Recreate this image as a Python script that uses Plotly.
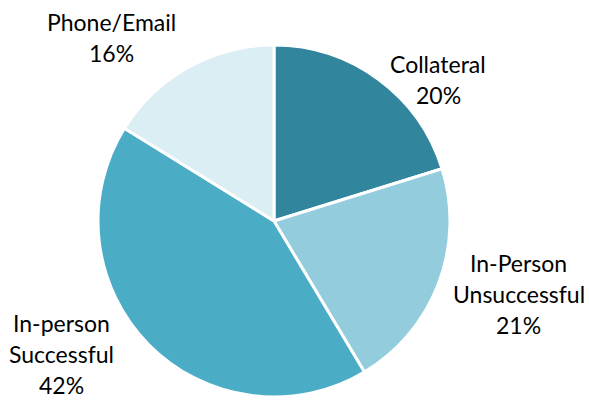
import plotly.graph_objects as go

# Share of contacts by type, clockwise from 12 o'clock
categories = ["Collateral", "In-Person\nUnsuccessful", "In-person\nSuccessful", "Phone/Email"]
shares = [20, 21, 42, 16]
colors = ["#31859C", "#93CDDD", "#4BACC6", "#DAEEF3"]

# label anchor points (paper coords, centre of text block)
label_x = [0.744, 0.881, 0.105, 0.189]
label_y = [0.801, 0.266, 0.116, 0.9075]

W, H = 589, 400
cx, cy, r = 274, 221, 176
LINE = 31  # px between label lines

fig = go.Figure(go.Pie(
    labels=[c.replace("\n", " ") for c in categories],
    values=shares,
    sort=False,
    direction="clockwise",
    rotation=0,
    marker=dict(colors=colors, line=dict(color="white", width=3)),
    textinfo="none",
    hoverinfo="label+percent",
    showlegend=False,
    domain=dict(x=[(cx - r) / W, (cx + r) / W], y=[1 - (cy + r) / H, 1 - (cy - r) / H]),
))

for cat, val, x, y in zip(categories, shares, label_x, label_y):
    lines = cat.split("\n") + [f"{val}%"]
    n = len(lines)
    for i, line in enumerate(lines):
        fig.add_annotation(
            x=x, y=y, xref="paper", yref="paper",
            yshift=((n - 1) / 2 - i) * LINE,
            text=line,
            showarrow=False, xanchor="center", yanchor="middle",
            font=dict(family="Lato, Carlito, sans-serif", size=23, color="#000000"),
        )

fig.update_layout(
    width=W, height=H,
    margin=dict(l=0, r=0, t=0, b=0),
    paper_bgcolor="white",
    plot_bgcolor="white",
)

fig.write_html("out.html")
